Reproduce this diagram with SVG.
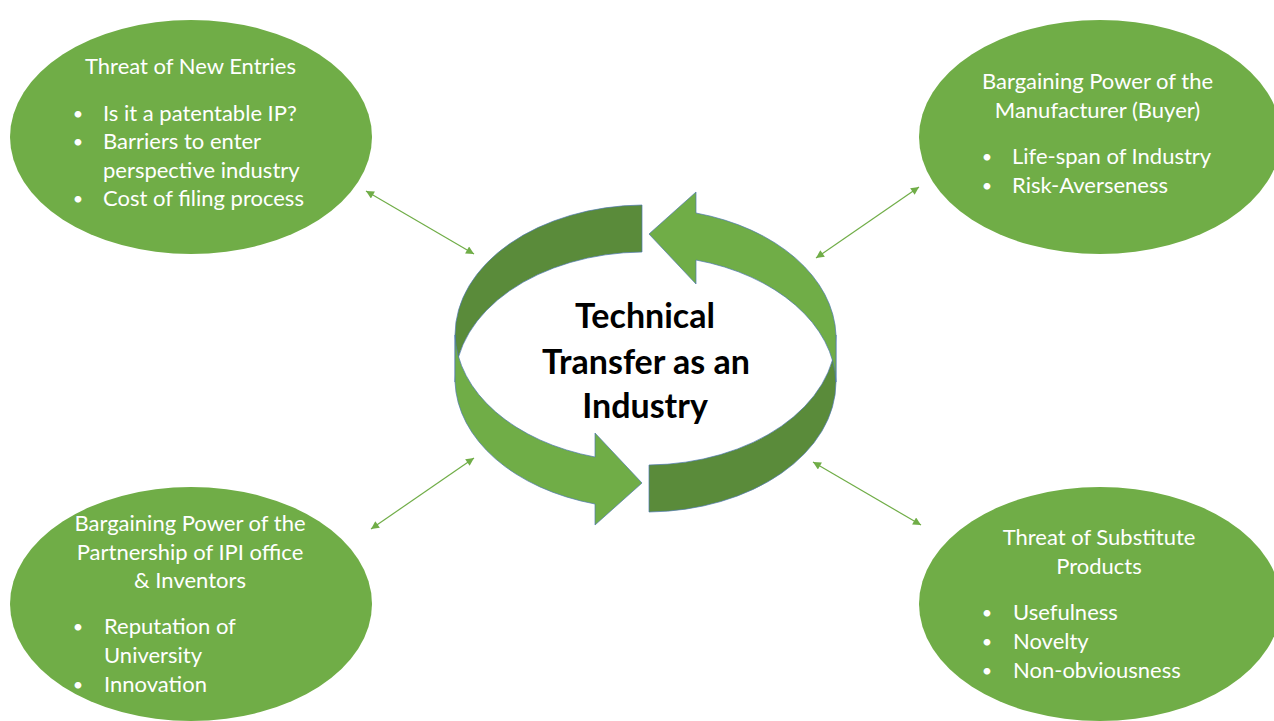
<svg xmlns="http://www.w3.org/2000/svg" width="1274" height="721" viewBox="0 0 1274 721">
<style>
.oval{fill:#70AD47;}
.hd{font-family:Lato,"Open Sans","Liberation Sans",sans-serif;font-size:22px;fill:#FFFFFF;text-anchor:middle;}
.bl{font-family:Lato,"Open Sans","Liberation Sans",sans-serif;font-size:22px;fill:#FFFFFF;}
.bu{font-family:Lato,"Open Sans","Liberation Sans",sans-serif;font-size:18px;fill:#FFFFFF;text-anchor:middle;}
.ctr{font-family:Lato,"Open Sans","Liberation Sans",sans-serif;font-size:34px;font-weight:bold;fill:#000000;text-anchor:middle;}
.dk{fill:#5A8B3A;stroke:#4F78B0;stroke-width:0.7;}
.lt{fill:#70AD47;stroke:#4F78B0;stroke-width:0.7;}
.con{stroke:#70AD47;stroke-width:1.2;fill:none;marker-start:url(#ah);marker-end:url(#ah);}
</style>
<defs>
<marker id="ah" viewBox="0 0 10 10" refX="10" refY="5" markerWidth="9" markerHeight="8" markerUnits="userSpaceOnUse" orient="auto-start-reverse">
<path d="M0,0 L10,5 L0,10 Z" fill="#70AD47"/>
</marker>
</defs>
<rect width="1274" height="721" fill="#FFFFFF"/>

<g id="center-cycle">
<g id="cycle-arrow-a-back"><path class="dk" d="M642,205 A190 130 0 0 0 455,335 L455,382 A190 130 0 0 1 642,252 Z"/></g>
<g id="cycle-arrow-b-back" transform="rotate(180 645.5 358.5)"><path class="dk" d="M642,205 A190 130 0 0 0 455,335 L455,382 A190 130 0 0 1 642,252 Z"/></g>
<g id="cycle-arrow-a-front"><path class="lt" d="M455,335 A190 130 0 0 0 595,457 L595,433 L642,483 L595,525 L595,504 A190 130 0 0 1 455,382 Z"/></g>
<g id="cycle-arrow-b-front" transform="rotate(180 645.5 358.5)"><path class="lt" d="M455,335 A190 130 0 0 0 595,457 L595,433 L642,483 L595,525 L595,504 A190 130 0 0 1 455,382 Z"/></g>
<g id="center-label">
<text class="ctr" x="645" y="328">Technical</text>
<text class="ctr" x="646" y="374">Transfer as an</text>
<text class="ctr" x="645" y="418">Industry</text>
</g>
</g>

<g id="node-new-entries">
<ellipse class="oval" cx="191" cy="137" rx="181" ry="117"/>
<text class="hd" x="190.5" y="74">Threat of New Entries</text>
<text class="bu" x="78" y="120">•</text><text class="bl" x="103" y="121">Is it a patentable IP?</text>
<text class="bu" x="78" y="148">•</text><text class="bl" x="103" y="149">Barriers to enter</text>
<text class="bl" x="103" y="178">perspective industry</text>
<text class="bu" x="78" y="205">•</text><text class="bl" x="103" y="206">Cost of filing process</text>
</g>

<g id="node-buyer">
<ellipse class="oval" cx="1100" cy="137" rx="181" ry="117"/>
<text class="hd" x="1097.5" y="89">Bargaining Power of the</text>
<text class="hd" x="1097.5" y="118">Manufacturer (Buyer)</text>
<text class="bu" x="987" y="163">•</text><text class="bl" x="1012" y="164">Life-span of Industry</text>
<text class="bu" x="987" y="192">•</text><text class="bl" x="1012" y="193">Risk-Averseness</text>
</g>

<g id="node-partnership">
<ellipse class="oval" cx="191" cy="604" rx="181" ry="117"/>
<text class="hd" x="190" y="531">Bargaining Power of the</text>
<text class="hd" x="190" y="560">Partnership of IPI office</text>
<text class="hd" x="190" y="588">&amp; Inventors</text>
<text class="bu" x="78" y="633">•</text><text class="bl" x="104" y="634">Reputation of</text>
<text class="bl" x="104" y="663">University</text>
<text class="bu" x="78" y="691">•</text><text class="bl" x="104" y="692">Innovation</text>
</g>

<g id="node-substitutes">
<ellipse class="oval" cx="1100" cy="604" rx="181" ry="117"/>
<text class="hd" x="1099" y="545">Threat of Substitute</text>
<text class="hd" x="1099" y="574">Products</text>
<text class="bu" x="987" y="619">•</text><text class="bl" x="1013" y="620">Usefulness</text>
<text class="bu" x="987" y="648">•</text><text class="bl" x="1013" y="649">Novelty</text>
<text class="bu" x="987" y="677">•</text><text class="bl" x="1013" y="678">Non-obviousness</text>
</g>

<g id="connectors">
<line class="con" x1="366" y1="191" x2="474" y2="254"/>
<line class="con" x1="816" y1="258" x2="919" y2="187"/>
<line class="con" x1="371" y1="529" x2="474" y2="458"/>
<line class="con" x1="813" y1="462" x2="921" y2="525"/>
</g>
</svg>
